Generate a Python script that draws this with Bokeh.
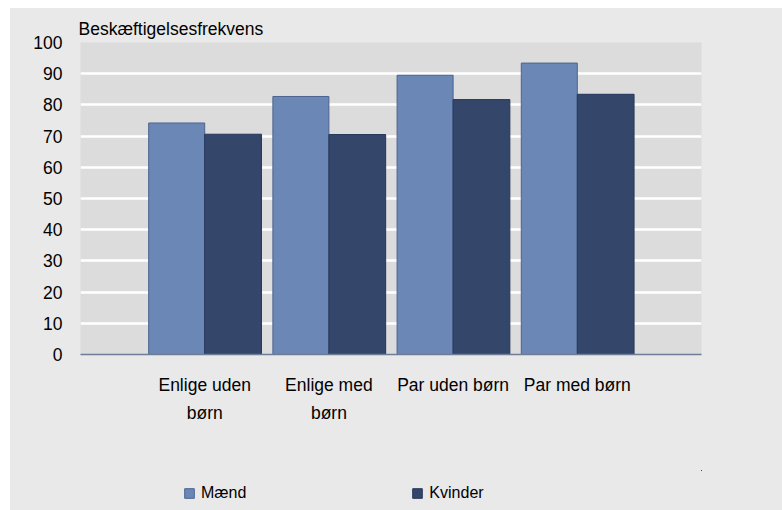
from bokeh.plotting import figure
from bokeh.models import FixedTicker, Range1d, Legend, LegendItem
from bokeh.layouts import column
from bokeh.embed import file_html
from bokeh.resources import INLINE

categories = ["Enlige uden\nbørn", "Enlige med\nbørn", "Par uden børn", "Par med børn"]
maend = [74.2, 82.7, 89.5, 93.4]
kvinder = [70.6, 70.5, 81.7, 83.4]
y_ticks = [0, 10, 20, 30, 40, 50, 60, 70, 80, 90, 100]
series_names = ["Mænd", "Kvinder"]
title_text = "Beskæftigelsesfrekvens"

FONT = "Liberation Sans"
BG = "#e9e9e9"
C_M, L_M = "#6b87b5", "#4c6390"
C_K, L_K = "#34476a", "#27365a"
pos = [i + 1 for i in range(len(categories))]

p = figure(width=772, height=462, output_backend="svg", toolbar_location=None,
           x_range=Range1d(0, len(categories) + 1), y_range=Range1d(0, 100),
           min_border_left=70, min_border_right=81, min_border_top=34, min_border_bottom=116)

p.border_fill_color = BG
p.background_fill_color = "#dcdcdc"
p.outline_line_color = None
p.styles = {"background-color": BG}

p.title.text = title_text
p.title.text_font = FONT
p.title.text_font_size = "17.5px"
p.title.text_font_style = "normal"
p.title.text_color = "#000000"
p.title.align = "left"
p.title.offset = -2
p.title.standoff = 7

p.vbar(x=[v - 0.2255 for v in pos], top=maend, width=0.451, bottom=0,
       fill_color=C_M, line_color=L_M, line_width=1)
p.vbar(x=[v + 0.2285 for v in pos], top=kvinder, width=0.457, bottom=0,
       fill_color=C_K, line_color=L_K, line_width=1)

# axes
p.xaxis.ticker = FixedTicker(ticks=pos)
p.xaxis.major_label_overrides = {v: c for v, c in zip(pos, categories)}
p.xaxis.major_tick_line_color = None
p.xaxis.minor_tick_line_color = None
p.xaxis.axis_line_color = "#6e7d96"
p.xaxis.axis_line_width = 1.5
p.xaxis.major_label_text_font = FONT
p.xaxis.major_label_text_font_size = "17.5px"
p.xaxis.major_label_text_color = "#000000"
p.xaxis.major_label_text_line_height = 1.4
p.xaxis.major_label_standoff = 14

p.yaxis.ticker = FixedTicker(ticks=y_ticks)
p.yaxis.major_tick_line_color = None
p.yaxis.minor_tick_line_color = None
p.yaxis.axis_line_color = None
p.yaxis.major_label_text_font = FONT
p.yaxis.major_label_text_font_size = "17.5px"
p.yaxis.major_label_text_color = "#000000"
p.yaxis.major_label_standoff = 12

p.xgrid.grid_line_color = None
p.ygrid.grid_line_color = "#ffffff"
p.ygrid.grid_line_width = 2.5
p.ygrid.level = "underlay"

# legend strip below the chart (its bars lie outside its visible ranges; only the legend shows)
lg = figure(width=772, height=40, output_backend="svg", toolbar_location=None,
            x_axis_location=None, y_axis_location=None,
            x_range=Range1d(-20, -19), y_range=Range1d(-2, -1),
            min_border_left=70, min_border_right=81, min_border_top=0, min_border_bottom=0)
lg.border_fill_color = BG
lg.background_fill_color = BG
lg.outline_line_color = None
lg.grid.grid_line_color = None
lg.styles = {"background-color": BG}
g1 = lg.vbar(x=pos, top=maend, width=0.451, fill_color=C_M, line_color=L_M, line_width=1)
g2 = lg.vbar(x=pos, top=kvinder, width=0.457, fill_color=C_K, line_color=L_K, line_width=1)

legend = Legend(items=[LegendItem(label=series_names[0], renderers=[g1]),
                       LegendItem(label=series_names[1], renderers=[g2])],
                orientation="horizontal", location=(103, 8),
                glyph_width=12, glyph_height=12, label_standoff=6, spacing=165,
                padding=0, margin=0, border_line_color=None, background_fill_alpha=0,
                label_text_font=FONT, label_text_font_size="16px", label_text_color="#000000")
lg.add_layout(legend, "center")

layout = column(p, lg, spacing=0, margin=(8, 0, 0, 10))
open("out.html", "w").write(file_html(layout, INLINE))
